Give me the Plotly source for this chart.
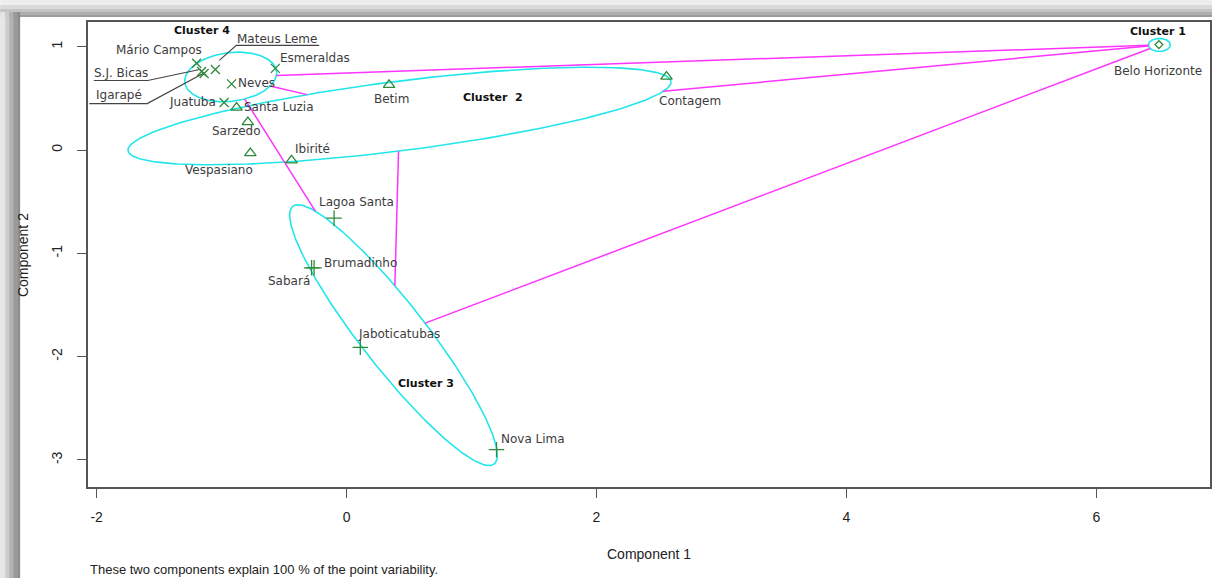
import numpy as np
import plotly.graph_objects as go

# ---------------- data ----------------
names = ["Belo Horizonte", "Contagem", "Betim", "Ibirité", "Vespasiano", "Sarzedo",
         "Santa Luzia", "Juatuba", "Neves", "Esmeraldas", "Mário Campos", "S.J. Bicas",
         "Igarapé", "Mateus Leme", "Lagoa Santa", "Brumadinho", "Sabará",
         "Jaboticatubas", "Nova Lima"]
comp1 = [6.50, 2.56, 0.34, -0.44, -0.77, -0.79, -0.88, -0.98, -0.92, -0.57, -1.20,
         -1.16, -1.14, -1.05, -0.10, -0.26, -0.28, 0.11, 1.20]
comp2 = [1.02, 0.71, 0.63, -0.10, -0.03, 0.27, 0.41, 0.46, 0.64, 0.79, 0.84,
         0.76, 0.74, 0.78, -0.66, -1.14, -1.14, -1.91, -2.90]
cluster = [1, 2, 2, 2, 2, 2, 2, 4, 4, 4, 4, 4, 4, 4, 3, 3, 3, 3, 3]

# spanning ellipses: centre, conjugate half-diameters u and vertical v
ell_id = [1, 2, 3, 4]
ell_cx = [6.504, 0.4235, 0.3755, -0.927]
ell_cy = [1.017, 0.329, -1.792, 0.707]
ell_ux = [0.088, 2.173, 0.831, 0.368]
ell_uy = [0.0, 0.329, -1.162, 0.039]
ell_v = [0.063, 0.339, 0.494, 0.237]

cluster_labels = ["Cluster 1", "Cluster  2", "Cluster 3", "Cluster 4"]
cluster_label_x = [6.494, 1.175, 0.639, -1.158]
cluster_label_y = [1.143, 0.513, -2.256, 1.153]

x_ticks = [-2, 0, 2, 4, 6]
y_ticks = [-3, -2, -1, 0, 1]

# ---------------- layout constants ----------------
W, H = 1214, 578
L, R, T, B = 88, 1212, 22, 487
X0, X1 = -2.069, 6.909
Y0, Y1 = -3.262, 1.239
sx = (R - L) / (X1 - X0)
sy = (B - T) / (Y1 - Y0)

def px(p):  # pixel x -> paper
    return (p - L) / (R - L)

def py(p):  # pixel y -> paper
    return (B - p) / (B - T)

# label offsets in pixels (dx right, dy down) from each point
lab_off = {
    "Belo Horizonte": (-1, 26), "Contagem": (23, 24), "Betim": (2, 14),
    "Ibirité": (21, -11), "Vespasiano": (-31, 17), "Sarzedo": (-11, 9),
    "Santa Luzia": (42, -1), "Juatuba": (-32, 0), "Neves": (25, -1),
    "Esmeraldas": (40, -10), "Mário Campos": (-38, -13), "S.J. Bicas": (-81, 2),
    "Igarapé": (-85, 21), "Mateus Leme": (62, -30), "Lagoa Santa": (22, -16),
    "Brumadinho": (46, -5), "Sabará": (-23, 13), "Jaboticatubas": (39, -13),
    "Nova Lima": (36, -11),
}
# leader lines (pixel offsets from point)
leaders = {
    "Mateus Leme": [(4, -9), (21, -24), (104, -24)],
    "S.J. Bicas": [(-2, -2), (-54, 9), (-108, 9)],
    "Igarapé": [(-1, 0), (-57, 30), (-115, 30)],
}

fig = go.Figure()

# ---------------- ellipses ----------------
t = np.linspace(0, 2 * np.pi, 300)
M = {}
for k, cid in enumerate(ell_id):
    cx, cy = ell_cx[k], ell_cy[k]
    ux, uy, v = ell_ux[k], ell_uy[k], ell_v[k]
    M[cid] = (np.array([cx, cy]), np.array([[ux, 0.0], [uy, v]]))
    ex = cx + ux * np.cos(t)
    ey = cy + uy * np.cos(t) + v * np.sin(t)
    fig.add_trace(go.Scatter(x=ex, y=ey, mode="lines",
                             line=dict(color="#22e6ea", width=1.6),
                             hoverinfo="skip", showlegend=False))

# ---------------- lines between clusters (clipped at ellipse borders) ----------------
for i in range(len(ell_id)):
    for j in range(i + 1, len(ell_id)):
        c1, M1 = M[ell_id[i]]
        c2, M2 = M[ell_id[j]]
        d = c2 - c1
        s1 = 1.0 / np.linalg.norm(np.linalg.solve(M1, d))
        s2 = 1.0 - 1.0 / np.linalg.norm(np.linalg.solve(M2, d))
        p1 = c1 + s1 * d
        p2 = c1 + s2 * d
        fig.add_trace(go.Scatter(x=[p1[0], p2[0]], y=[p1[1], p2[1]], mode="lines",
                                 line=dict(color="#ff33ff", width=1.5),
                                 hoverinfo="skip", showlegend=False))

# ---------------- leader lines ----------------
for nm, pts in leaders.items():
    k = names.index(nm)
    lx = [comp1[k] + dx / sx for dx, dy in pts]
    ly = [comp2[k] - dy / sy for dx, dy in pts]
    fig.add_trace(go.Scatter(x=lx, y=ly, mode="lines",
                             line=dict(color="#444444", width=1.2),
                             hoverinfo="skip", showlegend=False))

# ---------------- points ----------------
sym = {1: "diamond-open", 2: "triangle-up-open", 3: "cross-thin-open", 4: "x-thin-open"}
size = {1: 6, 2: 10, 3: 11, 4: 9}
green = "#2e8b3a"
for cid in [1, 2, 3, 4]:
    idx = [i for i, c in enumerate(cluster) if c == cid]
    fig.add_trace(go.Scatter(
        x=[comp1[i] for i in idx], y=[comp2[i] for i in idx], mode="markers",
        marker=dict(symbol=sym[cid], size=size[cid], color=green,
                    line=dict(color=green, width=1.3)),
        text=[names[i] for i in idx], hoverinfo="text", showlegend=False))

annotations = []
for i, nm in enumerate(names):
    dx, dy = lab_off[nm]
    annotations.append(dict(x=comp1[i], y=comp2[i], xref="x", yref="y", text=nm,
                            showarrow=False, xshift=dx, yshift=-dy,
                            font=dict(family="DejaVu Sans", size=12, color="#3c3c3c")))
for k, lab in enumerate(cluster_labels):
    annotations.append(dict(x=cluster_label_x[k], y=cluster_label_y[k], xref="x", yref="y",
                            text="<b>" + lab + "</b>", showarrow=False,
                            font=dict(family="DejaVu Sans", size=11, color="#111111")))

# axis titles & caption
annotations.append(dict(x=px(650), y=py(554), xref="paper", yref="paper", text="Component 1",
                        xanchor="center", yanchor="middle", showarrow=False,
                        font=dict(family="Liberation Sans", size=14, color="#222222")))
annotations.append(dict(x=px(23), y=py(255), xref="paper", yref="paper", text="Component 2",
                        xanchor="center", yanchor="middle", showarrow=False, textangle=-90,
                        font=dict(family="Liberation Sans", size=14, color="#222222")))
annotations.append(dict(x=px(88), y=py(569), xref="paper", yref="paper", xanchor="left",
                        yanchor="middle",
                        text="These two components explain 100 % of the point variability.",
                        showarrow=False, font=dict(family="Liberation Sans", size=13, color="#222222")))

# ---------------- page frame (shadow) ----------------
shapes = []
top_rows = [(0, 5, "#eeeeee"), (5, 9, "#dadada"), (9, 12, "#c4c4c4"), (12, 15, "#aeaeae"),
            (15, 17, "#9c9c9c")]
for y0, y1, c in top_rows:
    shapes.append(dict(type="rect", xref="paper", yref="paper", x0=px(0), x1=px(W),
                       y0=py(y1), y1=py(y0), fillcolor=c, line=dict(width=0), layer="below"))
left_cols = [(0, 5, "#e6e6e6"), (5, 9, "#cccccc"), (9, 13, "#b2b2b2"), (13, 17, "#9a9a9a"),
             (17, 20, "#8c8c8c")]
for x0, x1, c in left_cols:
    shapes.append(dict(type="rect", xref="paper", yref="paper", x0=px(x0), x1=px(x1),
                       y0=py(H), y1=py(12), fillcolor=c, line=dict(width=0), layer="below"))

fig.update_layout(
    width=W, height=H,
    margin=dict(l=L, r=W - R, t=T, b=H - B),
    paper_bgcolor="white", plot_bgcolor="white",
    showlegend=False,
    annotations=annotations,
    shapes=shapes,
    xaxis=dict(range=[X0, X1], tickvals=x_ticks, ticktext=[str(v) for v in x_ticks],
               showgrid=False, zeroline=False, showline=True, mirror=True,
               linecolor="#555555", linewidth=1.5, ticks="outside", ticklen=9,
               tickcolor="#555555", tickwidth=1.2, ticklabelstandoff=7,
               tickfont=dict(family="Liberation Sans", size=14, color="#222222")),
    yaxis=dict(range=[Y0, Y1], tickvals=y_ticks, ticktext=[str(v) for v in y_ticks],
               showgrid=False, zeroline=False, showline=True, mirror=True,
               linecolor="#555555", linewidth=1.5, ticks="outside", ticklen=9,
               tickcolor="#555555", tickwidth=1.2, tickangle=-90, ticklabelstandoff=10,
               tickfont=dict(family="Liberation Sans", size=14, color="#222222")),
)

fig.write_html("out.html", config={"displayModeBar": False},
               post_script="document.body.style.margin='0px';document.body.style.padding='0px';")
